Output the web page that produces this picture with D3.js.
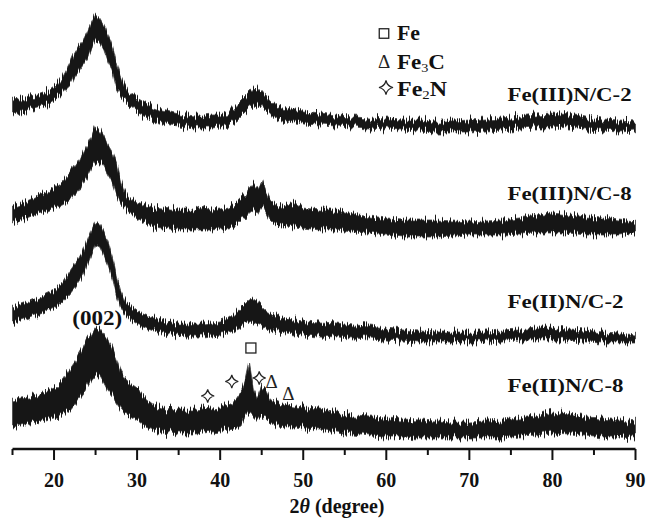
<!DOCTYPE html>
<html>
<head>
<meta charset="utf-8">
<script src="https://cdn.jsdelivr.net/npm/d3@7"></script>
<style>
  body { margin: 0; background: #fff; }
  svg { display: block; }
  text { font-family: "Liberation Serif", "Times New Roman", serif; }
</style>
</head>
<body>
<svg id="chart" width="647" height="520"></svg>
<script>
// 2θ sampling positions (degree)
const twoTheta = [15,16,17,18,19,20,21,22,22.5,23,23.5,24,24.5,25,25.5,26,26.5,27,27.5,28,28.5,29,30,31,32,33,34,35,36,37,38,39,40,41,41.5,42,42.5,43,43.5,44,44.5,45,45.5,46,46.5,47,48,49,50,52,54,56,58,60,62,64,66,68,70,72,74,76,78,80,82,84,86,88,90];

// Upper / lower edges of each noisy pattern (stacked intensity, a.u.)
const feIII2High = [349,350,352,353,356,362,371,387,397,404,409,417,427,435,431,424,414,404,387,374,364,357,351,346,342,339,337,335,334,333,333,334,334,337,341,344,349,353,356,361,363,359,354,349,345,342,340,338,337,335,333,332,331,330,329,329,328,328,329,330,331,333,335,336,334,331,329,328,327];
const feIII2Low  = [334,336,339,341,343,348,356,364,373,379,385,391,401,409,407,399,387,379,361,354,349,344,337,332,329,326,324,323,322,321,321,321,322,324,327,329,333,337,341,343,346,344,339,336,331,329,327,326,325,324,323,322,321,320,319,318,317,317,317,318,319,321,322,322,321,319,318,317,318];

const feIII8High = [242,245,249,253,256,261,267,277,283,289,297,305,313,323,319,312,304,297,287,269,257,251,247,244,242,241,240,239,239,239,243,239,240,242,244,247,251,254,261,266,262,269,259,249,245,242,244,246,241,239,239,235,232,230,229,229,229,228,227,228,229,231,234,236,234,232,231,229,227];
const feIII8Low  = [226,229,232,235,237,241,244,249,254,259,267,273,281,287,286,282,274,267,254,246,241,237,231,226,222,221,220,219,219,219,219,219,220,221,222,225,229,231,236,239,236,244,237,229,225,223,223,222,221,219,219,217,216,214,212,212,212,213,214,214,214,215,216,216,216,214,214,214,216];

const feII2High = [142,145,148,151,155,159,166,179,185,191,199,209,219,227,225,217,207,193,174,159,149,144,138,134,131,129,127,126,126,125,125,126,127,130,133,137,141,145,149,150,147,142,138,136,134,132,130,129,128,127,126,124,123,121,119,118,117,117,117,117,118,119,121,121,120,119,117,116,114];
const feII2Low  = [126,129,132,135,138,142,147,156,161,167,174,184,194,204,202,193,183,171,154,142,135,131,125,121,118,116,115,114,113,112,112,113,114,115,117,120,122,125,127,126,124,122,120,119,118,117,116,115,114,113,112,111,110,109,108,107,107,107,107,107,108,109,109,109,109,108,107,107,107];

const feII8High = [49,51,52,54,57,61,69,81,87,94,101,109,115,122,121,116,109,101,91,79,71,67,61,51,44,41,40,39,39,39,40,41,42,44,46,51,57,67,87,61,51,63,59,51,48,46,44,43,42,41,37,33,32,31,30,29,28,27,27,28,29,31,33,37,35,32,31,29,27];
const feII8Low  = [22,24,26,27,29,31,34,39,44,49,54,61,69,74,74,67,59,54,47,41,36,34,29,22,19,17,16,15,15,15,16,17,18,19,20,21,23,31,37,33,29,33,31,27,25,23,22,22,21,20,17,15,13,12,12,11,11,11,11,11,11,13,14,16,15,14,12,12,11];

const sampleNames = ["Fe(III)N/C-2", "Fe(III)N/C-8", "Fe(II)N/C-2", "Fe(II)N/C-8"];
const sampleHigh = [feIII2High, feIII8High, feII2High, feII8High];
const sampleLow  = [feIII2Low, feIII8Low, feII2Low, feII8Low];
// label anchor per pattern: [2θ, intensity]
const labelAnchor = [[74.6, 348], [74.6, 249], [74.6, 141], [74.6, 57]];

const xTicks = [20, 30, 40, 50, 60, 70, 80, 90];
const xMinorTicks = [15, 25, 35, 45, 55, 65, 75, 85];

// phase markers on Fe(II)N/C-8: [2θ, intensity]
const fe2nMarks = [[38.5, 53], [41.4, 67.5], [44.7, 71]];
const fe3cMarks = [[46.2, 66], [48.2, 54]];
const feMarks = [[43.7, 101]];
const peakLabel = { text: "(002)", at: [25.2, 124] };

const svg = d3.select("#chart");
const x = d3.scaleLinear().domain([15, 90]).range([12.5, 635.5]);
const y = d3.scaleLinear().domain([0, 449]).range([449, 0]);

// grain filter: shifts each pixel column a little up or down so the
// filled bands get the ragged look of counting noise
const defs = svg.append("defs");
const grain = defs.append("filter").attr("id", "grain")
  .attr("x", "-2%").attr("y", "-20%").attr("width", "104%").attr("height", "140%");
grain.append("feTurbulence")
  .attr("type", "fractalNoise").attr("baseFrequency", "0.9 0.004")
  .attr("numOctaves", 2).attr("seed", 7).attr("result", "n");
grain.append("feColorMatrix").attr("in", "n").attr("type", "matrix")
  .attr("values", "0 0 0 0 0.5  0 1 0 0 0  0 0 1 0 0  0 0 0 0 1").attr("result", "m");
grain.append("feDisplacementMap")
  .attr("in", "SourceGraphic").attr("in2", "m")
  .attr("scale", 16).attr("xChannelSelector", "R").attr("yChannelSelector", "G");

// patterns
const area = d3.area()
  .x((d, i) => x(twoTheta[i]))
  .y0(d => y(d[0]))
  .y1(d => y(d[1]))
  .curve(d3.curveLinear);

const traces = svg.append("g").attr("filter", "url(#grain)");
sampleNames.forEach((name, k) => {
  const pts = twoTheta.map((t, i) => [sampleLow[k][i], sampleHigh[k][i]]);
  traces.append("path")
    .datum(pts)
    .attr("d", area)
    .attr("fill", "#161616")
    .attr("stroke", "#444")
    .attr("stroke-width", 0.8)
    .attr("stroke-linejoin", "round");
});

// sample labels
sampleNames.forEach((name, k) => {
  svg.append("text")
    .attr("x", x(labelAnchor[k][0]))
    .attr("y", y(labelAnchor[k][1]))
    .attr("font-size", 19)
    .attr("font-weight", "bold")
    .attr("fill", "#111")
    .attr("textLength", name.length === 12 ? 124 : 116)
    .attr("lengthAdjust", "spacingAndGlyphs")
    .text(name);
});

// x axis
const axisG = svg.append("g").attr("transform", `translate(0,${y(0)})`);
axisG.append("line")
  .attr("x1", x(15)).attr("x2", x(90))
  .attr("stroke", "#111").attr("stroke-width", 2.6);
axisG.selectAll(".major").data(xTicks).join("line")
  .attr("x1", d => x(d)).attr("x2", d => x(d))
  .attr("y1", 0).attr("y2", 11)
  .attr("stroke", "#111").attr("stroke-width", 2);
axisG.selectAll(".minor").data(xMinorTicks).join("line")
  .attr("x1", d => x(d)).attr("x2", d => x(d))
  .attr("y1", 0).attr("y2", 6)
  .attr("stroke", "#111").attr("stroke-width", 2);
axisG.selectAll(".lbl").data(xTicks).join("text")
  .attr("x", d => x(d)).attr("y", 38)
  .attr("text-anchor", "middle")
  .attr("font-size", 20).attr("font-weight", "bold").attr("fill", "#111")
  .text(d => d);

const title = svg.append("text")
  .attr("x", 337).attr("y", 513)
  .attr("text-anchor", "middle")
  .attr("font-size", 20).attr("font-weight", "bold").attr("fill", "#111");
title.append("tspan").text("2");
title.append("tspan").attr("font-style", "italic").text("θ");
title.append("tspan").text(" (degree)");

// symbol helpers
function star(g, cx, cy, r) {
  const c = r * 0.18;
  g.append("path")
    .attr("d", `M${cx},${cy - r} Q${cx + c},${cy - c} ${cx + r},${cy} Q${cx + c},${cy + c} ${cx},${cy + r} Q${cx - c},${cy + c} ${cx - r},${cy} Q${cx - c},${cy - c} ${cx},${cy - r}Z`)
    .attr("fill", "none").attr("stroke", "#222").attr("stroke-width", 1.2);
}
function square(g, cx, cy, s) {
  g.append("rect")
    .attr("x", cx - s / 2).attr("y", cy - s / 2)
    .attr("width", s).attr("height", s)
    .attr("fill", "none").attr("stroke", "#222").attr("stroke-width", 1.3);
}
function delta(g, cx, baseY, size) {
  g.append("text")
    .attr("x", cx).attr("y", baseY)
    .attr("text-anchor", "middle")
    .attr("font-size", size).attr("fill", "#222")
    .text("Δ");
}

const marks = svg.append("g");
fe2nMarks.forEach(m => star(marks, x(m[0]), y(m[1]), 6.5));
feMarks.forEach(m => square(marks, x(m[0]), y(m[1]), 10));
fe3cMarks.forEach(m => delta(marks, x(m[0]), y(m[1]) + 5, 19));

svg.append("text")
  .attr("x", x(peakLabel.at[0])).attr("y", y(peakLabel.at[1]))
  .attr("text-anchor", "middle")
  .attr("font-size", 20).attr("font-weight", "bold").attr("fill", "#111")
  .attr("textLength", 50).attr("lengthAdjust", "spacingAndGlyphs")
  .text(peakLabel.text);

// legend
const legend = svg.append("g");
square(legend, 384, 33.5, 9.5);
delta(legend, 384, 68, 19);
star(legend, 386, 87.5, 7);
const legendText = (yy, parts, len) => {
  const t = legend.append("text").attr("x", 397).attr("y", yy)
    .attr("font-size", 21).attr("font-weight", "bold").attr("fill", "#111")
    .attr("textLength", len).attr("lengthAdjust", "spacingAndGlyphs");
  parts.forEach(p => {
    const s = t.append("tspan").text(p[0]);
    if (p[1]) s.attr("font-size", 13).attr("font-weight", "normal").attr("dy", 3);
    if (p[2]) s.attr("dy", -3);
  });
};
legendText(40, [["Fe"]], 23);
legendText(69, [["Fe"], ["3", true], ["C", false, true]], 48);
legendText(96, [["Fe"], ["2", true], ["N", false, true]], 50);
</script>
</body>
</html>
